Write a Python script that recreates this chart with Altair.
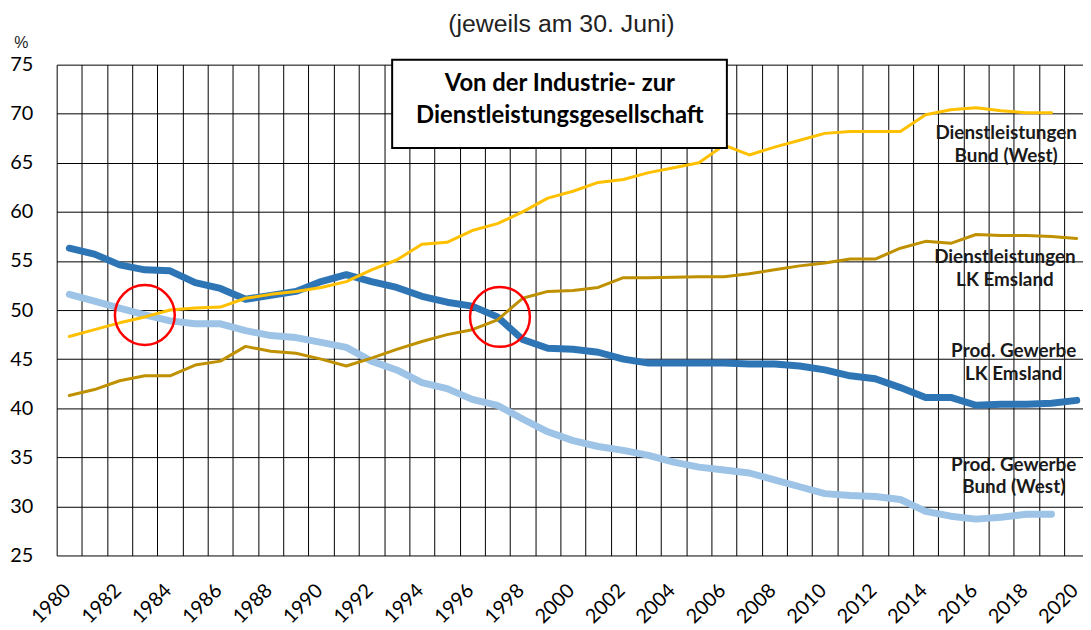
import altair as alt
import pandas as pd

# ---------------- data ----------------
years_all = list(range(1980, 2021))   # LK Emsland series: 1980-2020
years_bund = list(range(1980, 2020))  # Bund (West) series: 1980-2019

prod_lk = [56.3, 55.7, 54.6, 54.1, 54.0, 52.8, 52.2, 51.1, 51.5, 51.9,
           52.9, 53.6, 52.9, 52.3, 51.4, 50.8, 50.4, 49.3, 47.0, 46.1,
           46.0, 45.7, 45.0, 44.6, 44.6, 44.6, 44.6, 44.5, 44.5, 44.3,
           43.9, 43.3, 43.0, 42.1, 41.1, 41.1, 40.3, 40.4, 40.4, 40.5,
           40.8]
prod_bund = [51.6, 50.9, 50.2, 49.5, 48.9, 48.6, 48.6, 47.9, 47.4, 47.2,
             46.7, 46.2, 44.8, 43.9, 42.6, 42.0, 40.9, 40.3, 38.9, 37.6,
             36.7, 36.1, 35.7, 35.2, 34.5, 34.0, 33.7, 33.4, 32.7, 32.0,
             31.3, 31.1, 31.0, 30.7, 29.5, 29.0, 28.7, 28.9, 29.2, 29.2]
dl_lk = [41.3, 41.9, 42.8, 43.3, 43.3, 44.4, 44.8, 46.3, 45.8, 45.6,
         45.0, 44.3, 45.1, 46.0, 46.8, 47.5, 48.0, 49.0, 51.2, 51.9,
         52.0, 52.3, 53.3, 53.3, 53.35, 53.4, 53.4, 53.7, 54.1, 54.5,
         54.8, 55.2, 55.2, 56.3, 57.0, 56.8, 57.7, 57.6, 57.6, 57.5,
         57.3]
dl_bund = [47.3, 48.0, 48.7, 49.3, 50.0, 50.2, 50.3, 51.2, 51.6, 51.9,
           52.3, 52.9, 54.1, 55.1, 56.7, 56.9, 58.1, 58.8, 60.0, 61.4,
           62.1, 63.0, 63.3, 64.0, 64.5, 65.0, 66.8, 65.8, 66.6, 67.3,
           68.0, 68.2, 68.2, 68.2, 69.9, 70.4, 70.6, 70.3, 70.1, 70.1]

series_names = ["Prod. Gewerbe Bund (West)", "Prod. Gewerbe LK Emsland",
                "Dienstleistungen LK Emsland", "Dienstleistungen Bund (West)"]
series_years = [years_bund, years_all, years_all, years_bund]
series_values = [prod_bund, prod_lk, dl_lk, dl_bund]
series_colors = ["#9DC3E6", "#2E75B6", "#BF9000", "#FFC000"]
series_widths = [7, 7, 3, 3]

# end labels (text, year, value of first line)
end_label_text = ["Dienstleistungen\nBund (West)", "Dienstleistungen\nLK Emsland",
                  "Prod. Gewerbe\nLK Emsland", "Prod. Gewerbe\nBund (West)"]
end_label_year = [2017.2, 2017.15, 2017.5, 2017.5]
end_label_value = [68.05, 55.41, 45.81, 34.25]

# highlighted crossings
circle_year = [1983.0, 1997.1]
circle_value = [49.5, 49.3]

# annotation box
box_text = "Von der Industrie- zur\nDienstleistungsgesellschaft"
box_x = [1992.82, 2006.11]
box_y = [75.5, 66.5]
box_text_year = 1999.48
box_text_value = 72.98

subtitle = "(jeweils am 30. Juni)"

# ---------------- chart ----------------
X_DOMAIN = [1979.5, 2020.25]
Y_DOMAIN = [25, 75]
x_scale = alt.Scale(domain=X_DOMAIN, nice=False, zero=False)
y_scale = alt.Scale(domain=Y_DOMAIN, nice=False, zero=False)

x_tick_values = [1979.5 + 0.5 * i for i in range(82)]

x_axis = alt.Axis(
    values=x_tick_values,
    grid=True, gridColor="black", gridWidth=1,
    gridOpacity={"condition": {"test": "datum.value % 1 != 0", "value": 1}, "value": 0},
    ticks=False, domain=False,
    labelExpr="datum.value % 2 == 0 ? format(datum.value, 'd') : ''",
    labelAngle=-45, labelAlign="right", labelBaseline="middle",
    labelPadding=32, labelOffset=-2, labelOverlap=False, labelFlush=False, labelBound=False,
    labelFont="Lato", labelFontSize=20, labelColor="black",
    title=None,
)
y_axis = alt.Axis(
    values=list(range(25, 80, 5)),
    grid=True, gridColor="black", gridWidth=1,
    ticks=False, domain=False,
    labelFont="Lato", labelFontSize=20, labelColor="black", labelPadding=24,
    title="%", titleAngle=0, titleFont="Liberation Sans", titleFontSize=16,
    titleFontWeight="normal", titleColor="#222222",
    titleX=-36, titleY=-22, titleAlign="center", titleBaseline="middle",
)


def X(field):
    return alt.X(field, scale=x_scale, axis=x_axis)


def Y(field):
    return alt.Y(field, scale=y_scale, axis=y_axis)


layers = []
for name, yrs, vals, col, w in zip(series_names, series_years, series_values,
                                   series_colors, series_widths):
    df = pd.DataFrame({"Jahr": yrs, "Anteil": vals, "Reihe": name})
    layers.append(
        alt.Chart(df).mark_line(
            color=col, strokeWidth=w, strokeJoin="round", strokeCap="round"
        ).encode(x=X("Jahr:Q"), y=Y("Anteil:Q"))
    )

circles_df = pd.DataFrame({"Jahr": circle_year, "Anteil": circle_value})
circles = alt.Chart(circles_df).mark_point(
    shape="circle", filled=False, size=3630, stroke="#FF0000", strokeWidth=2.5, opacity=1
).encode(x=X("Jahr:Q"), y=Y("Anteil:Q"))

labels_df = pd.DataFrame({"Jahr": end_label_year, "Anteil": end_label_value, "t": end_label_text})
end_labels = alt.Chart(labels_df).mark_text(
    font="Lato", fontWeight="bold", fontSize=19, color="#1a1a1a",
    align="center", baseline="middle", lineBreak="\n", lineHeight=23
).encode(x=X("Jahr:Q"), y=Y("Anteil:Q"), text="t:N")

box_df = pd.DataFrame({"Jahr": [box_x[0]], "x2": [box_x[1]], "Anteil": [box_y[0]], "y2": [box_y[1]]})
box = alt.Chart(box_df).mark_rect(fill="white", stroke="black", strokeWidth=2).encode(
    x=X("Jahr:Q"), x2="x2:Q", y=Y("Anteil:Q"), y2="y2:Q",
)
box_txt_df = pd.DataFrame({"Jahr": [box_text_year], "Anteil": [box_text_value], "t": [box_text]})
box_txt = alt.Chart(box_txt_df).mark_text(
    font="Lato", fontWeight="bold", fontSize=24, color="black",
    align="center", baseline="middle", lineBreak="\n", lineHeight=32
).encode(x=X("Jahr:Q"), y=Y("Anteil:Q"), text="t:N")

sub_df = pd.DataFrame({"t": [subtitle]})
sub = alt.Chart(sub_df).mark_text(
    font="Liberation Sans", fontSize=25, color="#222222", align="center", baseline="middle"
).encode(x=alt.value(508), y=alt.value(-41), text="t:N")

chart = alt.layer(*layers, circles, box, box_txt, end_labels, sub).properties(
    width=1033, height=494,
    padding={"left": 49, "top": 55, "right": 0, "bottom": 72},
    autosize=alt.AutoSizeParams(type="none"),
    background="white",
).configure_view(strokeWidth=0)

chart.save("out.html", embed_options={"renderer": "svg", "actions": False})
